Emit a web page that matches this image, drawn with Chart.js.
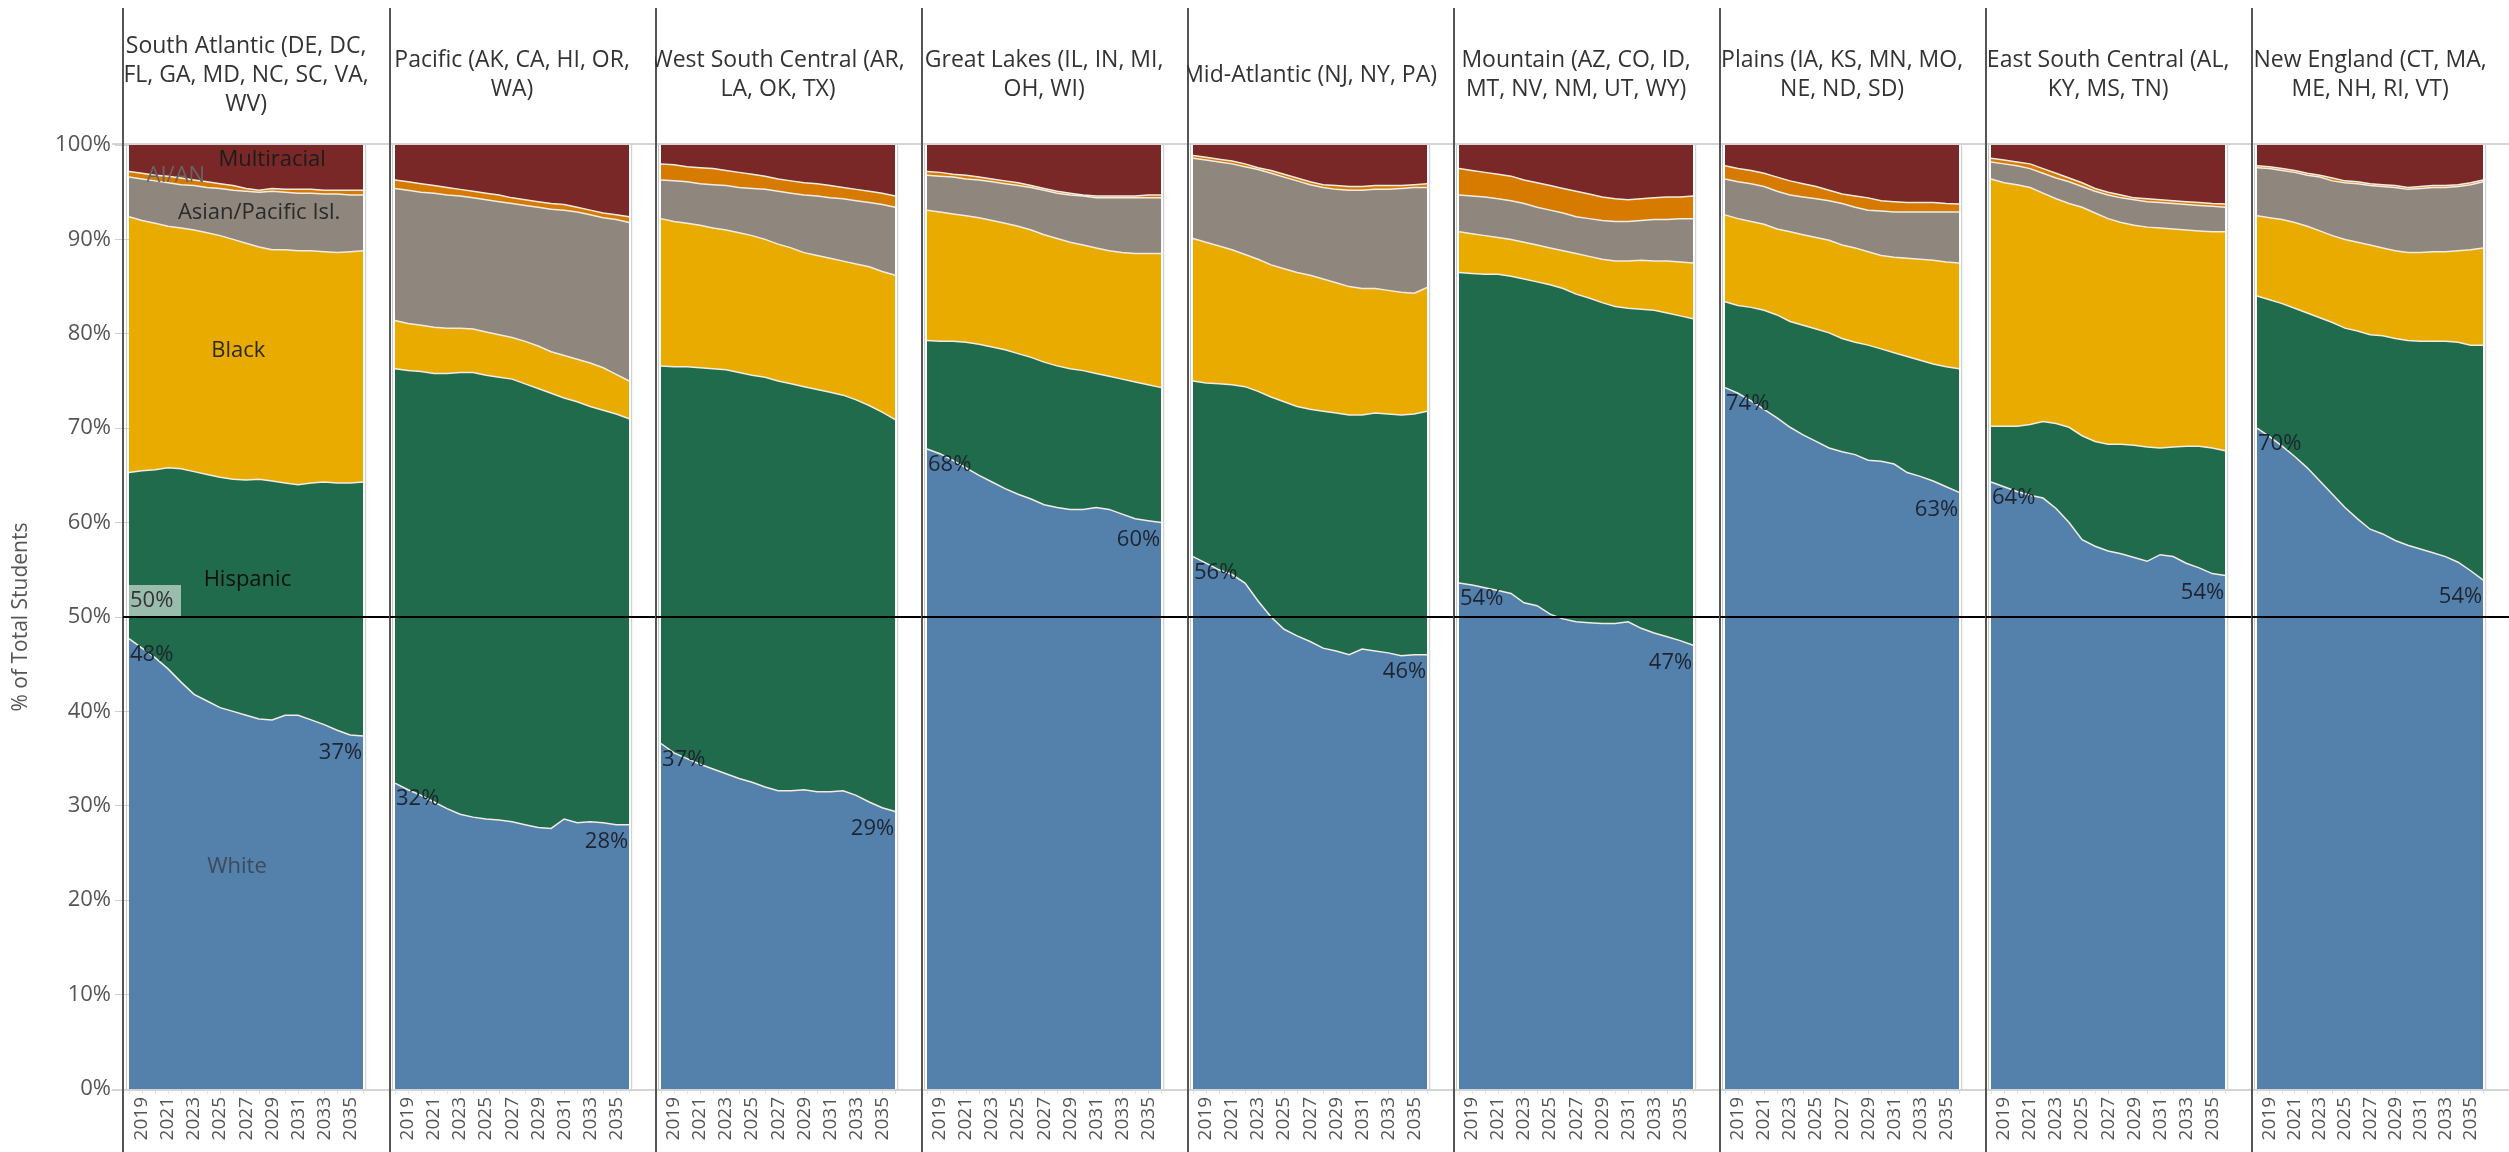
<!DOCTYPE html>
<html>
<head>
<meta charset="utf-8">
<script src="https://cdn.jsdelivr.net/npm/chart.js@4.4.1/dist/chart.umd.min.js"></script>
<style>
  html, body { margin: 0; padding: 0; background: #fff; }
  #wrap { position: relative; width: 2509px; height: 1152px; overflow: hidden; }
  #wrap canvas { position: absolute; top: 0; }
</style>
</head>
<body>
<div id="wrap"></div>
<script>
const years = ['2018','2019','2020','2021','2022','2023','2024','2025','2026','2027','2028','2029','2030','2031','2032','2033','2034','2035','2036'];

const regions = [
  ['South Atlantic (DE, DC,', 'FL, GA, MD, NC, SC, VA,', 'WV)'],
  ['Pacific (AK, CA, HI, OR,', 'WA)'],
  ['West South Central (AR,', 'LA, OK, TX)'],
  ['Great Lakes (IL, IN, MI,', 'OH, WI)'],
  ['Mid-Atlantic (NJ, NY, PA)'],
  ['Mountain (AZ, CO, ID,', 'MT, NV, NM, UT, WY)'],
  ['Plains (IA, KS, MN, MO,', 'NE, ND, SD)'],
  ['East South Central (AL,', 'KY, MS, TN)'],
  ['New England (CT, MA,', 'ME, NH, RI, VT)']
];

const seriesNames = ['White', 'Hispanic', 'Black', 'Asian/Pacific Isl.', 'AI/AN', 'Multiracial'];

// cumulative % of students at the top of each band, one row per region (same order as regions)
const whiteTop = [
  [47.7,46.7,45.7,44.5,43.1,41.8,41.1,40.4,40.0,39.6,39.2,39.1,39.6,39.6,39.1,38.6,38.0,37.5,37.4],
  [32.4,31.7,31.1,30.4,29.7,29.1,28.8,28.6,28.5,28.3,28.0,27.7,27.6,28.6,28.2,28.3,28.2,28.0,28.0],
  [36.6,35.6,35.0,34.4,33.9,33.4,32.9,32.5,32.0,31.6,31.6,31.7,31.5,31.5,31.6,31.1,30.4,29.8,29.4],
  [67.8,67.3,66.6,65.8,65.0,64.3,63.6,63.0,62.5,61.9,61.6,61.4,61.4,61.6,61.4,60.9,60.4,60.2,60.0],
  [56.4,55.7,55.0,54.5,53.6,51.7,50.0,48.7,48.0,47.4,46.7,46.4,46.0,46.6,46.4,46.2,45.9,46.0,46.0],
  [53.6,53.4,53.1,52.8,52.5,51.5,51.2,50.3,49.8,49.5,49.4,49.3,49.3,49.5,48.8,48.3,47.9,47.5,47.0],
  [74.3,73.7,72.9,72.0,71.1,70.1,69.3,68.6,67.9,67.5,67.2,66.6,66.5,66.2,65.3,64.9,64.4,63.8,63.2],
  [64.3,63.8,63.3,62.9,62.6,61.5,60.0,58.2,57.5,57.0,56.7,56.3,55.9,56.6,56.4,55.7,55.2,54.6,54.4],
  [70.0,69.1,68.1,67.0,65.8,64.4,63.0,61.6,60.4,59.3,58.8,58.1,57.6,57.2,56.8,56.4,55.8,54.9,53.9]
];
const hispanicTop = [
  [65.3,65.5,65.6,65.8,65.7,65.4,65.1,64.8,64.6,64.5,64.6,64.4,64.2,64.0,64.2,64.3,64.2,64.2,64.3],
  [76.3,76.1,76.0,75.8,75.8,75.9,75.9,75.6,75.4,75.2,74.7,74.2,73.7,73.2,72.8,72.3,71.9,71.5,71.0],
  [76.6,76.5,76.5,76.4,76.3,76.2,75.9,75.6,75.4,75.0,74.7,74.4,74.1,73.8,73.5,73.0,72.4,71.7,70.9],
  [79.3,79.2,79.2,79.1,78.9,78.6,78.3,77.9,77.5,77.0,76.6,76.3,76.1,75.8,75.5,75.2,74.9,74.6,74.3],
  [75.0,74.8,74.7,74.6,74.4,73.9,73.3,72.8,72.3,72.0,71.8,71.6,71.4,71.4,71.6,71.5,71.4,71.5,71.8],
  [86.5,86.4,86.3,86.3,86.1,85.8,85.5,85.2,84.8,84.2,83.8,83.3,82.9,82.7,82.6,82.5,82.2,81.9,81.6],
  [83.4,83.0,82.8,82.5,82.0,81.3,80.9,80.5,80.1,79.5,79.1,78.8,78.4,78.0,77.6,77.2,76.8,76.5,76.3],
  [70.2,70.2,70.2,70.4,70.7,70.5,70.1,69.2,68.6,68.3,68.3,68.2,68.0,67.9,68.0,68.1,68.1,67.9,67.6],
  [84.0,83.6,83.2,82.7,82.2,81.7,81.2,80.6,80.3,79.9,79.8,79.5,79.3,79.2,79.2,79.2,79.1,78.8,78.8]
];
const blackTop = [
  [92.4,92.0,91.7,91.4,91.2,91.0,90.7,90.4,90.0,89.6,89.2,88.9,88.9,88.8,88.8,88.7,88.6,88.7,88.8],
  [81.4,81.1,80.9,80.7,80.6,80.6,80.5,80.2,79.9,79.6,79.2,78.7,78.1,77.7,77.3,76.9,76.4,75.7,75.0],
  [92.2,91.9,91.7,91.5,91.2,91.0,90.7,90.4,90.0,89.5,89.1,88.6,88.3,88.0,87.7,87.4,87.1,86.6,86.2],
  [93.1,92.9,92.7,92.5,92.3,92.0,91.7,91.4,91.0,90.5,90.1,89.7,89.4,89.1,88.8,88.6,88.5,88.5,88.5],
  [90.1,89.7,89.3,88.9,88.4,87.9,87.3,86.9,86.5,86.2,85.8,85.4,85.0,84.8,84.8,84.6,84.4,84.3,84.9],
  [90.8,90.6,90.4,90.2,90.0,89.7,89.4,89.1,88.8,88.5,88.2,87.9,87.7,87.7,87.8,87.7,87.7,87.6,87.5],
  [92.6,92.2,91.9,91.6,91.1,90.8,90.5,90.2,89.9,89.4,89.1,88.7,88.3,88.1,88.0,87.9,87.8,87.6,87.5],
  [96.4,96.0,95.8,95.5,94.9,94.3,93.8,93.4,92.8,92.2,91.8,91.5,91.3,91.2,91.1,91.0,90.9,90.8,90.8],
  [92.5,92.3,92.1,91.8,91.4,90.9,90.4,90.0,89.7,89.4,89.1,88.8,88.6,88.6,88.7,88.7,88.8,88.9,89.1]
];
const asianTop = [
  [96.6,96.4,96.2,96.0,95.8,95.7,95.5,95.4,95.2,95.1,95.0,95.1,95.0,94.9,94.9,94.8,94.8,94.7,94.7],
  [95.4,95.2,95.0,94.9,94.7,94.6,94.4,94.2,94.0,93.8,93.6,93.4,93.2,93.1,92.9,92.6,92.3,92.1,91.8],
  [96.3,96.2,96.1,95.9,95.8,95.7,95.5,95.4,95.3,95.1,94.9,94.7,94.6,94.4,94.3,94.1,93.9,93.7,93.4],
  [96.8,96.7,96.6,96.4,96.3,96.1,95.9,95.7,95.5,95.2,94.9,94.7,94.6,94.4,94.4,94.4,94.4,94.4,94.4],
  [98.6,98.4,98.2,98.0,97.7,97.4,97.0,96.6,96.2,95.8,95.5,95.3,95.2,95.2,95.3,95.3,95.4,95.5,95.5],
  [94.7,94.6,94.5,94.3,94.1,93.8,93.4,93.1,92.8,92.4,92.2,92.0,91.9,91.9,92.0,92.1,92.1,92.2,92.2],
  [96.4,96.1,95.9,95.6,95.1,94.7,94.5,94.3,94.1,93.8,93.4,93.1,93.0,92.9,92.9,92.9,92.9,92.9,92.9],
  [98.2,98.0,97.8,97.5,97.0,96.5,96.1,95.6,95.1,94.7,94.4,94.2,94.0,93.9,93.8,93.7,93.6,93.5,93.4],
  [97.6,97.5,97.3,97.1,96.8,96.6,96.2,96.0,95.9,95.7,95.6,95.5,95.3,95.4,95.5,95.5,95.6,95.8,96.1]
];
const aianTop = [
  [97.2,97.0,96.8,96.7,96.5,96.3,96.1,95.9,95.7,95.4,95.2,95.4,95.3,95.3,95.3,95.2,95.2,95.2,95.2],
  [96.3,96.1,95.9,95.7,95.5,95.3,95.1,94.9,94.7,94.4,94.2,94.0,93.8,93.7,93.4,93.1,92.8,92.6,92.4],
  [98.0,97.9,97.7,97.6,97.5,97.3,97.1,96.9,96.7,96.4,96.2,96.0,95.9,95.7,95.5,95.3,95.1,94.9,94.6],
  [97.2,97.1,96.9,96.8,96.6,96.4,96.2,96.0,95.7,95.4,95.1,94.9,94.7,94.6,94.6,94.6,94.6,94.7,94.7],
  [98.9,98.7,98.5,98.3,98.0,97.6,97.3,96.9,96.5,96.1,95.8,95.7,95.6,95.6,95.7,95.7,95.7,95.8,95.9],
  [97.5,97.3,97.1,96.9,96.7,96.3,96.0,95.7,95.4,95.1,94.8,94.5,94.3,94.2,94.3,94.4,94.5,94.5,94.6],
  [97.8,97.5,97.3,97.0,96.6,96.2,95.9,95.6,95.2,94.8,94.6,94.4,94.1,94.0,93.9,93.9,93.9,93.8,93.75],
  [98.6,98.4,98.2,98.0,97.5,97.0,96.5,96.0,95.4,95.0,94.7,94.4,94.3,94.2,94.1,94.0,93.9,93.8,93.75],
  [97.8,97.7,97.5,97.3,97.0,96.8,96.5,96.2,96.1,95.9,95.8,95.7,95.5,95.6,95.7,95.7,95.8,96.0,96.3]
];

const colors = ['#5481ab', '#1f6b4b', '#e9ab00', '#8f877d', '#d67a00', '#7a2727'];
const FONT = '"Open Sans", sans-serif';

// band names written into the first panel: [text, year index, % value, colour]
const bandLabels = [
  ['Multiracial', 11.0, 98.4, '#1c1c1c'],
  ['AI/AN', 3.6, 96.7, '#666'],
  ['Asian/Pacific Isl.', 10.0, 92.8, '#2a2a2a'],
  ['Black', 8.4, 78.2, '#2a2a2a'],
  ['Hispanic', 9.1, 53.9, '#111'],
  ['White', 8.3, 23.5, '#3c4a5a']
];

const axisX = 123, pitch = 266, pageW = 2509;

function sharesFor(k) {
  const tops = [whiteTop[k], hispanicTop[k], blackTop[k], asianTop[k], aianTop[k], years.map(() => 100)];
  return tops.map((row, j) => row.map((v, i) => j === 0 ? v : +(v - tops[j - 1][i]).toFixed(2)));
}

const wrap = document.getElementById('wrap');

regions.forEach((title, k) => {
  const left = k === 0 ? 0 : axisX + pitch * k;
  const width = k === 0 ? axisX + pitch : Math.min(pitch, pageW - left);
  const canvas = document.createElement('canvas');
  canvas.width = width;
  canvas.height = 1152;
  canvas.style.left = left + 'px';
  canvas.style.width = width + 'px';
  canvas.style.height = '1152px';
  wrap.appendChild(canvas);

  const shares = sharesFor(k);
  const sepX = k === 0 ? axisX : 1;

  const decor = {
    id: 'decor',
    afterDraw(chart) {
      const ctx = chart.ctx, ca = chart.chartArea, y = chart.scales.y, x = chart.scales.x;
      ctx.save();
      // header / bottom rules
      ctx.strokeStyle = '#d4d4d4';
      ctx.lineWidth = 2;
      ctx.beginPath();
      ctx.moveTo(k === 0 ? 112 : 0, ca.top - 1); ctx.lineTo(chart.width, ca.top - 1);
      ctx.moveTo(k === 0 ? 112 : 0, ca.bottom + 1); ctx.lineTo(chart.width, ca.bottom + 1);
      ctx.stroke();
      // thin frame lines beside the panel
      ctx.lineWidth = 1;
      ctx.strokeStyle = '#c8c8c8';
      ctx.beginPath();
      ctx.moveTo(ca.left - 2.5, ca.top); ctx.lineTo(ca.left - 2.5, ca.bottom);
      ctx.moveTo(ca.right + 2.5, ca.top); ctx.lineTo(ca.right + 2.5, ca.bottom);
      ctx.stroke();
      // panel separator
      ctx.strokeStyle = '#555';
      ctx.lineWidth = 2;
      ctx.beginPath();
      ctx.moveTo(sepX, 8); ctx.lineTo(sepX, chart.height);
      ctx.stroke();
      // 50% reference line
      const y50 = y.getPixelForValue(50);
      ctx.strokeStyle = '#000';
      ctx.lineWidth = 2;
      ctx.beginPath();
      ctx.moveTo(sepX, y50); ctx.lineTo(chart.width, y50);
      ctx.stroke();

      // region title
      ctx.fillStyle = '#333';
      ctx.font = '23px ' + FONT;
      ctx.textAlign = 'center';
      ctx.textBaseline = 'middle';
      const cx = (ca.left + ca.right) / 2, lh = 29;
      title.forEach((line, i) => {
        ctx.fillText(line, cx, 75 + (i - (title.length - 1) / 2) * lh);
      });

      // first / last White share
      ctx.font = '22px ' + FONT;
      const w = whiteTop[k];
      ctx.fillStyle = '#1e2430';
      ctx.textBaseline = 'top';
      ctx.textAlign = 'left';
      ctx.fillText(Math.round(w[0]) + '%', ca.left + 1, y.getPixelForValue(w[0]) + 5);
      ctx.textAlign = 'right';
      ctx.fillText(Math.round(w[w.length - 1]) + '%', ca.right - 1, y.getPixelForValue(w[w.length - 1]) + 6);

      if (k === 0) {
        ctx.fillStyle = 'rgba(255,255,255,0.55)';
        ctx.fillRect(ca.left, y50 - 32, 52, 31);
        ctx.fillStyle = '#333';
        ctx.textAlign = 'left';
        ctx.textBaseline = 'middle';
        ctx.fillText('50%', ca.left + 1, y50 - 16);
        ctx.textAlign = 'center';
        bandLabels.forEach(([t, xi, v, c]) => {
          ctx.fillStyle = c;
          ctx.fillText(t, x.getPixelForValue(xi), y.getPixelForValue(v));
        });
      }
      ctx.restore();
    }
  };

  const yScale = {
    display: k === 0,
    stacked: true,
    min: 0,
    max: 100,
    grid: { drawOnChartArea: false, tickLength: 14, color: '#d0d0d0' },
    border: { display: false },
    ticks: {
      stepSize: 10,
      padding: 4,
      color: '#555',
      font: { family: FONT, size: 22 },
      callback: v => v + '%'
    },
    title: {
      display: true,
      text: '% of Total Students',
      color: '#555',
      font: { family: FONT, size: 21 },
      padding: { top: 8, bottom: 0 }
    }
  };
  if (k === 0) yScale.afterFit = s => { s.width = 129; };

  new Chart(canvas, {
    type: 'line',
    data: {
      labels: years,
      datasets: seriesNames.map((name, j) => ({
        label: name,
        data: shares[j],
        fill: j === 0 ? 'origin' : '-1',
        backgroundColor: colors[j],
        borderColor: '#f2ece2',
        borderWidth: j === 5 ? 0 : 1.5,
        pointRadius: 0,
        tension: 0
      }))
    },
    options: {
      responsive: false,
      animation: false,
      layout: { padding: { top: 145, left: k === 0 ? 0 : 6, right: k === 8 ? 4 : 8, bottom: 0 }, autoPadding: false },
      plugins: { legend: { display: false }, tooltip: { enabled: false } },
      scales: {
        x: {
          offset: false,
          grid: { display: true, drawOnChartArea: false, tickLength: 5, color: '#e2e2e2' },
          border: { display: false },
          ticks: {
            autoSkip: false,
            maxRotation: 90,
            minRotation: 90,
            padding: 3,
            color: '#555',
            font: { family: FONT, size: 19 },
            callback: function (v, i) { return i % 2 === 1 ? this.getLabelForValue(v) : ''; }
          },
          afterFit(s) { s.height = 63; }
        },
        y: yScale
      }
    },
    plugins: [decor]
  });
});
</script>
</body>
</html>
